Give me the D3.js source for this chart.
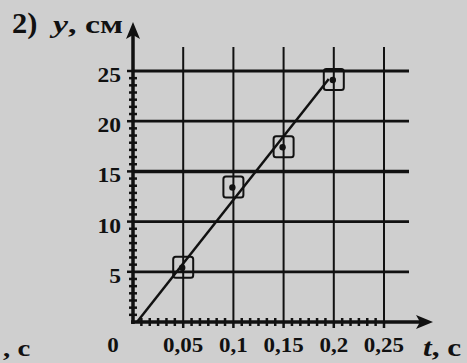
<!DOCTYPE html>
<html>
<head>
<meta charset="utf-8">
<script src="https://cdn.jsdelivr.net/npm/d3@7"></script>
<style>
  body { margin: 0; background: #cfcfcf; }
  svg { display: block; }
  text { font-family: "Liberation Serif", "DejaVu Serif", serif; font-weight: bold; fill: #111; }
</style>
</head>
<body>
<div id="chart"></div>
<script>
// measured points t (s) and y (cm)
var tValues = [0.05, 0.1, 0.15, 0.2];
var yValues = [5.5, 13.5, 17.5, 24.2];

// fitted line ends
var fitT = [0.004, 0.195];
var fitY = [0, 24.2];

var xTicks = [0.05, 0.1, 0.15, 0.2, 0.25];
var xTickLabels = ["0,05", "0,1", "0,15", "0,2", "0,25"];
var yTicks = [5, 10, 15, 20, 25];

var width = 467;
var height = 363;

var svg = d3
  .select("#chart")
  .append("svg")
  .attr("width", width)
  .attr("height", height);

svg.append("rect").attr("width", width).attr("height", height).attr("fill", "#cfcfcf");

var xScale = d3.scaleLinear().domain([0, 0.25]).range([133, 384]);
var yScale = d3.scaleLinear().domain([0, 25]).range([322, 71]);

var x0 = xScale(0);
var y0 = yScale(0);

// text stretched a bit wider, like the scanned print
function label(x, y, anchor, size, sx) {
  return svg
    .append("g")
    .attr("transform", "translate(" + x + "," + y + ") scale(" + sx + ",1)")
    .append("text")
    .attr("text-anchor", anchor)
    .attr("font-size", size);
}

// grid
svg
  .selectAll(".vgrid")
  .data(xTicks)
  .enter()
  .append("line")
  .attr("x1", function(d) { return xScale(d); })
  .attr("x2", function(d) { return xScale(d); })
  .attr("y1", 47)
  .attr("y2", y0)
  .attr("stroke", "#111")
  .attr("stroke-width", 2);

svg
  .selectAll(".hgrid")
  .data(yTicks)
  .enter()
  .append("line")
  .attr("x1", x0)
  .attr("x2", 409)
  .attr("y1", function(d) { return yScale(d); })
  .attr("y2", function(d) { return yScale(d); })
  .attr("stroke", "#111")
  .attr("stroke-width", function(d) { return d === 15 ? 3.5 : 2.8; });

// minor ticks on axes
var xMinor = d3.range(0, 0.25, 0.05 / 6).filter(function(d, i) { return i % 6 !== 0; });
var yMinor = d3.range(0, 25, 5 / 7).filter(function(d, i) { return i % 7 !== 0; });

svg
  .selectAll(".xminor")
  .data(xMinor)
  .enter()
  .append("line")
  .attr("x1", function(d) { return xScale(d); })
  .attr("x2", function(d) { return xScale(d); })
  .attr("y1", y0 - 4)
  .attr("y2", y0 + 4)
  .attr("stroke", "#111")
  .attr("stroke-width", 2.5);

svg
  .selectAll(".yminor")
  .data(yMinor)
  .enter()
  .append("line")
  .attr("x1", x0 - 4)
  .attr("x2", x0 + 4)
  .attr("y1", function(d) { return yScale(d); })
  .attr("y2", function(d) { return yScale(d); })
  .attr("stroke", "#111")
  .attr("stroke-width", 2.5);

// major tick crossings
svg
  .selectAll(".ymajor")
  .data(yTicks)
  .enter()
  .append("line")
  .attr("x1", x0 - 6)
  .attr("x2", x0)
  .attr("y1", function(d) { return yScale(d); })
  .attr("y2", function(d) { return yScale(d); })
  .attr("stroke", "#111")
  .attr("stroke-width", 2.5);

svg
  .selectAll(".xmajor")
  .data(xTicks)
  .enter()
  .append("line")
  .attr("x1", function(d) { return xScale(d); })
  .attr("x2", function(d) { return xScale(d); })
  .attr("y1", y0)
  .attr("y2", y0 + 6)
  .attr("stroke", "#111")
  .attr("stroke-width", 2.5);

// axes with arrows
svg.append("line")
  .attr("x1", x0).attr("x2", x0)
  .attr("y1", y0 + 2).attr("y2", 30)
  .attr("stroke", "#111").attr("stroke-width", 3.5);
svg.append("line")
  .attr("x1", x0 - 2).attr("x2", 425)
  .attr("y1", y0).attr("y2", y0)
  .attr("stroke", "#111").attr("stroke-width", 3.5);

svg.append("path")
  .attr("d", "M" + x0 + ",22 L" + (x0 + 7) + ",39 L" + x0 + ",35 L" + (x0 - 7) + ",39 Z")
  .attr("fill", "#111");
svg.append("path")
  .attr("d", "M433," + y0 + " L416," + (y0 - 7) + " L420," + y0 + " L416," + (y0 + 7) + " Z")
  .attr("fill", "#111");

// fitted line
svg.append("line")
  .attr("x1", xScale(fitT[0])).attr("y1", yScale(fitY[0]))
  .attr("x2", xScale(fitT[1])).attr("y2", yScale(fitY[1]))
  .attr("stroke", "#111").attr("stroke-width", 2.5);

// data points
var points = tValues.map(function(t, i) { return { t: t, y: yValues[i] }; });

svg
  .selectAll(".box")
  .data(points)
  .enter()
  .append("rect")
  .attr("x", function(d) { return xScale(d.t) - 10; })
  .attr("y", function(d) { return yScale(d.y) - 10; })
  .attr("width", 20)
  .attr("height", 21)
  .attr("rx", 2.5)
  .attr("fill", "none")
  .attr("stroke", "#111")
  .attr("stroke-width", 2);

svg
  .selectAll(".dot")
  .data(points)
  .enter()
  .append("circle")
  .attr("cx", function(d) { return xScale(d.t) - 1; })
  .attr("cy", function(d) { return yScale(d.y) + 1; })
  .attr("r", 3.2)
  .attr("fill", "#111");

// tick labels
yTicks.forEach(function(d) {
  label(121, yScale(d) + 11, "end", 21, 1.12).text(d);
});

xTicks.forEach(function(d, i) {
  label(xScale(d), 352, "middle", 20, 1.15).text(xTickLabels[i]);
});

label(113, 352, "middle", 20, 1.15).text("0");

// axis titles
label(12, 33, "start", 29, 1.05).text("2)");

var yTitle = label(53, 33, "start", 26, 1.3);
yTitle.append("tspan").attr("font-style", "italic").text("y");
yTitle.append("tspan").text(", см");

var xTitle = label(423, 356, "start", 26, 1.2);
xTitle.append("tspan").attr("font-style", "italic").text("t");
xTitle.append("tspan").text(", с");

// fragment of neighbouring chart
label(3, 356, "start", 24, 1.2).text(", с");
</script>
</body>
</html>
